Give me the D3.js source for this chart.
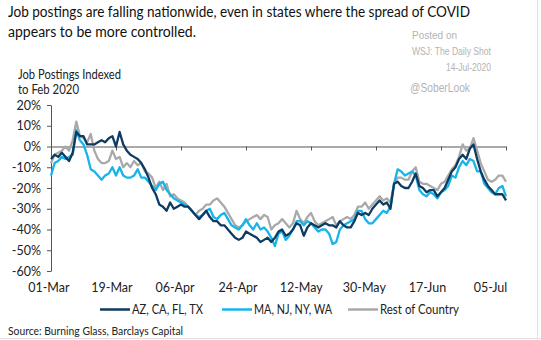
<!DOCTYPE html>
<html>
<head>
<meta charset="utf-8">
<script src="https://cdn.jsdelivr.net/npm/d3@7"></script>
<style>
  body { margin: 0; background: #fff; }
  svg { display: block; }
</style>
</head>
<body>
<svg id="chart" width="541" height="340"></svg>
<script>
// Daily job postings indexed to Feb 2020, % change, starting 01-Mar-2020
const startDay = new Date(Date.UTC(2020, 2, 1));
const tickLabels = ["01-Mar", "19-Mar", "06-Apr", "24-Apr", "12-May", "30-May", "17-Jun", "05-Jul"];
const tickDayOffsets = [0, 18, 36, 54, 72, 90, 108, 126];
const yTicks = [20, 10, 0, -10, -20, -30, -40, -50, -60];
const seriesNames = ["AZ, CA, FL, TX", "MA, NJ, NY, WA", "Rest of Country"];
const seriesColors = ["#0d3b61", "#17b4ea", "#a9a9a9"];

// AZ, CA, FL, TX
const sunbeltStates = [
  -6, -4, -5, -3, -5, -7, -3, 7, 5, 5,
  1, 1, 1, 2, 3, 2, 4, 5, 0, 7,
  1, -2, -4, -5, -6, -8, -11, -15, -20, -23,
  -28, -29, -31, -27, -30, -29, -28, -29, -29, -31,
  -33, -35, -33, -31, -34, -36, -36, -38, -38, -40,
  -42, -44, -45, -44, -41, -42, -43, -44, -46, -45,
  -44, -46, -44, -41, -40, -43, -42, -40, -37, -38,
  -43, -39, -37, -38, -39, -38, -37, -38, -38, -39,
  -36, -38, -39, -39, -36, -32, -33, -32, -33, -30,
  -28, -26, -28, -27, -30, -18, -17, -19, -20, -20,
  -17, -13, -19, -20, -22, -21, -21, -24, -22, -20,
  -16, -12, -10, -6, -4, -6, -1, 1, -6, -12,
  -16, -19, -21, -23, -23, -23, -26
];

// MA, NJ, NY, WA
const northeastStates = [
  -14, -8, -7, -5, -6, -5, -4, 8, 3, 1,
  -4, -11, -12, -14, -16, -14, -13, -10, -14, -10,
  -14, -15, -15, -14, -11, -15, -15, -17, -19, -21,
  -18, -17, -21, -23, -25, -26, -27, -28, -29, -31,
  -33, -34, -33, -31, -30, -34, -35, -33, -32, -35,
  -38, -39, -40, -38, -35, -38, -40, -37, -40, -39,
  -41, -44, -48, -42, -41, -45, -43, -40, -36, -36,
  -38, -36, -37, -39, -41, -40, -40, -42, -47, -46,
  -40, -38, -37, -36, -35, -31, -31, -35, -37, -37,
  -35, -33, -31, -32, -29, -18, -11, -12, -14, -13,
  -12, -14, -21, -23, -24, -22, -23, -25, -22, -21,
  -19, -14, -15, -10, -7, -9, -6, -7, -12, -12,
  -18, -20, -22, -23, -20, -19, -24
];

// Rest of Country
const restOfCountry = [
  -8, -4, -3, -2, 0, -2, 3, 12, 5, 4,
  2, 6, -2, -6, -8, -8, -7, -2, -6, -5,
  -10, -8, -10, -7, -9, -8, -12, -13, -15, -20,
  -17, -21, -18, -24, -23, -25, -26, -27, -29, -31,
  -33, -31, -30, -28, -28, -26, -25, -27, -29, -32,
  -35, -38, -39, -38, -36, -35, -34, -33, -35, -33,
  -34, -40, -38, -37, -35, -37, -39, -37, -31, -35,
  -37, -34, -32, -36, -38, -37, -36, -35, -34, -38,
  -36, -35, -34, -35, -33, -29, -29, -27, -30, -28,
  -26, -24, -26, -25, -27, -18, -15, -15, -16, -16,
  -12, -10, -17, -18, -18, -19, -20, -21, -18, -17,
  -14, -11, -9, -5, 1, -2, -1, 4, -2, -8,
  -12, -16, -17, -16, -14, -14, -17
];

const seriesValues = [sunbeltStates, northeastStates, restOfCountry];
const dayOf = i => d3.utcDay.offset(startDay, i);
const tickDates = tickDayOffsets.map(dayOf);

const svg = d3.select("#chart");
const chartFont = "Lato, 'Open Sans', sans-serif";
const noteFont = "'Liberation Sans', Arial, sans-serif";

// Squeeze a text run into a given width (the house font is narrower than Lato)
function fitWidth(sel, w) {
  return sel.attr("textLength", w).attr("lengthAdjust", "spacingAndGlyphs");
}

// Scales
const x = d3.scaleUtc().domain([dayOf(0), dayOf(126)]).range([51, 506]);
const y = d3.scaleLinear().domain([-60, 20]).range([271, 105]);
// Category labels under the plot sit on their own evenly spaced positions
const xLabel = d3.scaleUtc().domain([dayOf(0), dayOf(126)]).range([48.3, 490]);

// Title
const title = svg.append("g").attr("font-family", chartFont).attr("font-size", 15.5).attr("fill", "#111");
fitWidth(title.append("text").attr("x", 8).attr("y", 17)
  .text("Job postings are falling nationwide, even in states where the spread of COVID"), 462);
fitWidth(title.append("text").attr("x", 8).attr("y", 36.5)
  .text("appears to be more controlled."), 188);

// Posting note
const note = svg.append("g").attr("font-family", noteFont).attr("fill", "#b3b3b3");
fitWidth(note.append("text").attr("x", 412).attr("y", 39).attr("font-size", 11.5).text("Posted on"), 45);
fitWidth(note.append("text").attr("x", 412).attr("y", 55).attr("font-size", 10).text("WSJ: The Daily Shot"), 79);
fitWidth(note.append("text").attr("x", 446).attr("y", 71).attr("font-size", 10).text("14-Jul-2020"), 45);
fitWidth(note.append("text").attr("x", 410).attr("y", 92).attr("font-size", 12).text("@SoberLook"), 60);

// Y axis title
const yTitle = svg.append("g").attr("font-family", chartFont).attr("font-size", 12.5).attr("fill", "#222");
fitWidth(yTitle.append("text").attr("x", 18).attr("y", 79).text("Job Postings Indexed"), 103);
fitWidth(yTitle.append("text").attr("x", 18).attr("y", 94).text("to Feb 2020"), 61);

// Y axis
const yAxis = svg.append("g")
  .attr("transform", "translate(51,0)")
  .call(d3.axisLeft(y).tickValues(yTicks).tickSize(4).tickSizeOuter(0).tickPadding(6)
    .tickFormat(d => d + "%"));
yAxis.selectAll("path, line").attr("stroke", "#555");
yAxis.selectAll("text").attr("font-family", chartFont).attr("font-size", 12.5).attr("fill", "#222");

// Zero line with date ticks
const zeroAxis = svg.append("g")
  .attr("transform", `translate(0,${y(0)})`)
  .call(d3.axisBottom(x).tickValues(tickDates).tickSize(4).tickSizeOuter(0).tickFormat(""));
zeroAxis.selectAll("path, line").attr("stroke", "#555");

// Date labels along the bottom
const xAxis = svg.append("g")
  .attr("transform", "translate(0,277)")
  .call(d3.axisBottom(xLabel).tickValues(tickDates).tickSize(0).tickPadding(6)
    .tickFormat((d, i) => tickLabels[i]));
xAxis.select(".domain").remove();
xAxis.selectAll("text").attr("font-family", chartFont).attr("font-size", 12.5).attr("fill", "#222");

// Series lines (grey drawn first so the coloured lines sit on top)
const line = d3.line().x((d, i) => x(dayOf(i))).y(d => y(d));
[2, 1, 0].forEach(k => {
  svg.append("path")
    .datum(seriesValues[k])
    .attr("fill", "none")
    .attr("stroke", seriesColors[k])
    .attr("stroke-width", 2.3)
    .attr("stroke-linejoin", "round")
    .attr("d", line);
});

// Legend
const legendX = [100, 222, 348];
const legendTextW = [71, 78, 79];
const legend = svg.append("g").attr("font-family", chartFont).attr("font-size", 12.5).attr("fill", "#222");
seriesNames.forEach((name, k) => {
  legend.append("line")
    .attr("x1", legendX[k]).attr("x2", legendX[k] + 30)
    .attr("y1", 309.5).attr("y2", 309.5)
    .attr("stroke", seriesColors[k]).attr("stroke-width", 2.5);
  fitWidth(legend.append("text").attr("x", legendX[k] + 32).attr("y", 314).text(name), legendTextW[k]);
});

// Source
fitWidth(svg.append("text").attr("x", 8).attr("y", 334.5)
  .attr("font-family", chartFont).attr("font-size", 11.5).attr("fill", "#222")
  .text("Source: Burning Glass, Barclays Capital"), 175);

// Frame edges
svg.append("line").attr("x1", 537.5).attr("x2", 537.5).attr("y1", 0).attr("y2", 340)
  .attr("stroke", "#e2e2e2").attr("stroke-width", 1);
svg.append("line").attr("x1", 0).attr("x2", 541).attr("y1", 338.5).attr("y2", 338.5)
  .attr("stroke", "#e2e2e2").attr("stroke-width", 1);
</script>
</body>
</html>
